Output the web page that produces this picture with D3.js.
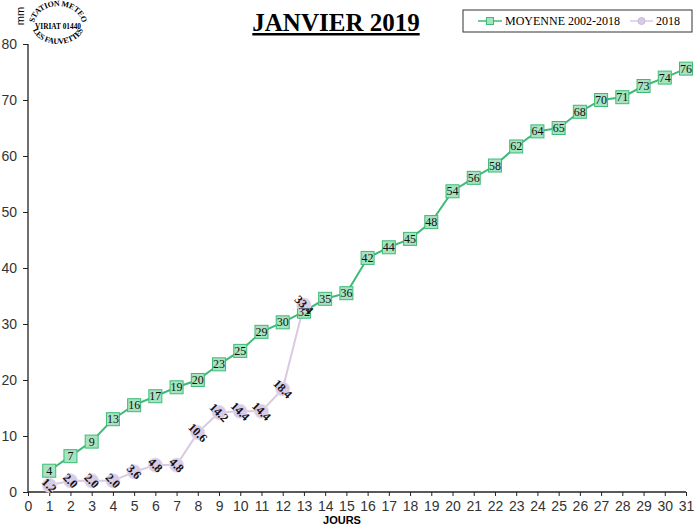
<!DOCTYPE html>
<html><head><meta charset="utf-8">
<script src="https://cdn.jsdelivr.net/npm/d3@7"></script>
<style>body{margin:0;background:#fff}svg{display:block}</style>
</head><body>
<script>
const days = d3.range(1, 32);
const moyenne = [3.8,6.4,9.0,13.0,15.5,17.1,18.7,20.0,22.8,25.2,28.6,30.3,32.2,34.5,35.5,41.8,43.7,45.2,48.2,53.7,56.1,58.3,61.7,64.4,65.0,67.9,70.0,70.5,72.5,74.0,75.6];
const moyenneLabels = ["4","7","9","13","16","17","19","20","23","25","29","30","32","35","36","42","44","45","48","54","56","58","62","64","65","68","70","71","73","74","76"];
const y2018 = [1.2,2.0,2.0,2.0,3.6,4.8,4.8,10.6,14.2,14.4,14.4,18.4,33.4];
const xTicks = d3.range(0, 32);
const yTicks = [0,10,20,30,40,50,60,70,80];
const seriesNames = ["MOYENNE 2002-2018","2018"];

const W=700,H=530;
const svg=d3.select("body").append("svg").attr("width",W).attr("height",H);
const x=d3.scaleLinear().domain([0,31]).range([28,686]);
const y=d3.scaleLinear().domain([0,80]).range([492,44]);

const gx=svg.append("g").attr("transform","translate(0,492)")
  .call(d3.axisBottom(x).tickValues(xTicks).tickSize(4).tickPadding(5));
const gy=svg.append("g").attr("transform","translate(28,0)")
  .call(d3.axisLeft(y).tickValues(yTicks).tickSize(5).tickPadding(6));
[gx,gy].forEach(g=>{
  g.select(".domain").attr("stroke","#222").attr("stroke-width",1.3);
  g.selectAll(".tick line").attr("stroke","#222");
  g.selectAll(".tick text").attr("font-family","Arial, 'Liberation Sans', sans-serif").attr("font-size",14).attr("fill","#333");
});
gy.select(".domain").attr("d","M0,492V44");
gx.select(".domain").attr("d","M28,0H686");

const green="#3dba78", greenFill="#a6e3bf";
const purple="#d9c9e4", purpleFill="#d8cbe6";

svg.append("path").datum(y2018).attr("fill","none").attr("stroke",purple).attr("stroke-width",2)
  .attr("d",d3.line().x((d,i)=>x(i+1)).y(d=>y(d)));
svg.append("path").datum(moyenne).attr("fill","none").attr("stroke",green).attr("stroke-width",2)
  .attr("d",d3.line().x((d,i)=>x(i+1)).y(d=>y(d)));

svg.selectAll(".gsq").data(moyenne).enter().append("rect")
  .attr("x",(d,i)=>x(i+1)-6.5).attr("y",d=>y(d)-6.5).attr("width",13).attr("height",13)
  .attr("fill",greenFill).attr("stroke",green).attr("stroke-width",1);
svg.selectAll(".pc").data(y2018).enter().append("circle")
  .attr("cx",(d,i)=>x(i+1)).attr("cy",d=>y(d)).attr("r",7)
  .attr("fill",purpleFill).attr("stroke","#e6dcef");

svg.selectAll(".gl").data(moyenne).enter().append("text")
  .attr("x",(d,i)=>x(i+1)).attr("y",d=>y(d)+4).attr("text-anchor","middle")
  .attr("font-family","'Liberation Serif', 'Times New Roman', serif").attr("font-size",12).attr("fill","#111")
  .text((d,i)=>moyenneLabels[i]);
svg.selectAll(".pl").data(y2018).enter().append("text")
  .attr("transform",(d,i)=>`translate(${x(i+1)},${y(d)}) rotate(45)`)
  .attr("y",4).attr("text-anchor","middle")
  .attr("font-family","'Liberation Serif', 'Times New Roman', serif").attr("font-weight","bold").attr("font-size",12).attr("fill","#111")
  .text(d=>d.toFixed(1));

// Title
svg.append("text").attr("x",336).attr("y",31).attr("text-anchor","middle")
  .attr("font-family","'Liberation Serif', 'Times New Roman', serif").attr("font-weight","bold").attr("font-size",25)
  .attr("text-decoration","underline").text("JANVIER 2019");

// Legend
const lg=svg.append("g");
lg.append("rect").attr("x",463).attr("y",10).attr("width",229).attr("height",22).attr("fill","#fff").attr("stroke","#333").attr("stroke-width",1);
lg.append("line").attr("x1",478).attr("x2",502).attr("y1",21).attr("y2",21).attr("stroke",green).attr("stroke-width",1.5);
lg.append("rect").attr("x",486.5).attr("y",17.5).attr("width",7).attr("height",7).attr("fill",greenFill).attr("stroke",green);
lg.append("text").attr("x",505).attr("y",25).attr("font-family","'Liberation Serif', 'Times New Roman', serif").attr("font-size",12).text(seriesNames[0]);
lg.append("line").attr("x1",630).attr("x2",653).attr("y1",21).attr("y2",21).attr("stroke",purple).attr("stroke-width",1.5);
lg.append("circle").attr("cx",641.5).attr("cy",21).attr("r",3.5).attr("fill",purpleFill).attr("stroke","#c9b6da");
lg.append("text").attr("x",656).attr("y",25).attr("font-family","'Liberation Serif', 'Times New Roman', serif").attr("font-size",12).text(seriesNames[1]);

// Axis titles
svg.append("text").attr("transform","translate(24,16) rotate(-90)").attr("text-anchor","middle")
  .attr("font-family","Arial, 'Liberation Sans', sans-serif").attr("font-size",11).text("mm");
svg.append("text").attr("x",342).attr("y",524).attr("text-anchor","middle")
  .attr("font-family","Arial, 'Liberation Sans', sans-serif").attr("font-weight","bold").attr("font-size",11).text("JOURS");

// Logo stamp
const cx=58, cy=25;
const a=15*Math.PI/180;
const defs=svg.append("defs");
const rxT=24, ryT=19, rxB=26, ryB=19;
defs.append("path").attr("id","arcTop")
  .attr("d",`M${cx-rxT*Math.cos(a)},${cy+ryT*Math.sin(a)} A${rxT},${ryT} 0 1 1 ${cx+rxT*Math.cos(a)},${cy+ryT*Math.sin(a)}`);
defs.append("path").attr("id","arcBot")
  .attr("d",`M${cx-rxB*Math.cos(a)},${cy-ryB*Math.sin(a)} A${rxB},${ryB} 0 1 0 ${cx+rxB*Math.cos(a)},${cy-ryB*Math.sin(a)}`);
const logoFont="'Liberation Serif', 'Times New Roman', serif";
svg.append("text").attr("font-family",logoFont).attr("font-weight","bold").attr("font-size",8).attr("letter-spacing",-0.3)
  .append("textPath").attr("href","#arcTop").attr("startOffset","50%").attr("text-anchor","middle").text("STATION METEO");
svg.append("text").attr("font-family",logoFont).attr("font-weight","bold").attr("font-size",8).attr("letter-spacing",-0.3)
  .append("textPath").attr("href","#arcBot").attr("startOffset","50%").attr("text-anchor","middle").text("LES FAUVETTES");
svg.append("text").attr("x",cx).attr("y",cy+4).attr("text-anchor","middle").attr("font-family",logoFont).attr("font-weight","bold").attr("font-size",8)
  .attr("textLength",46).attr("lengthAdjust","spacingAndGlyphs").text("VIRIAT 01440");
</script>
</body></html>
